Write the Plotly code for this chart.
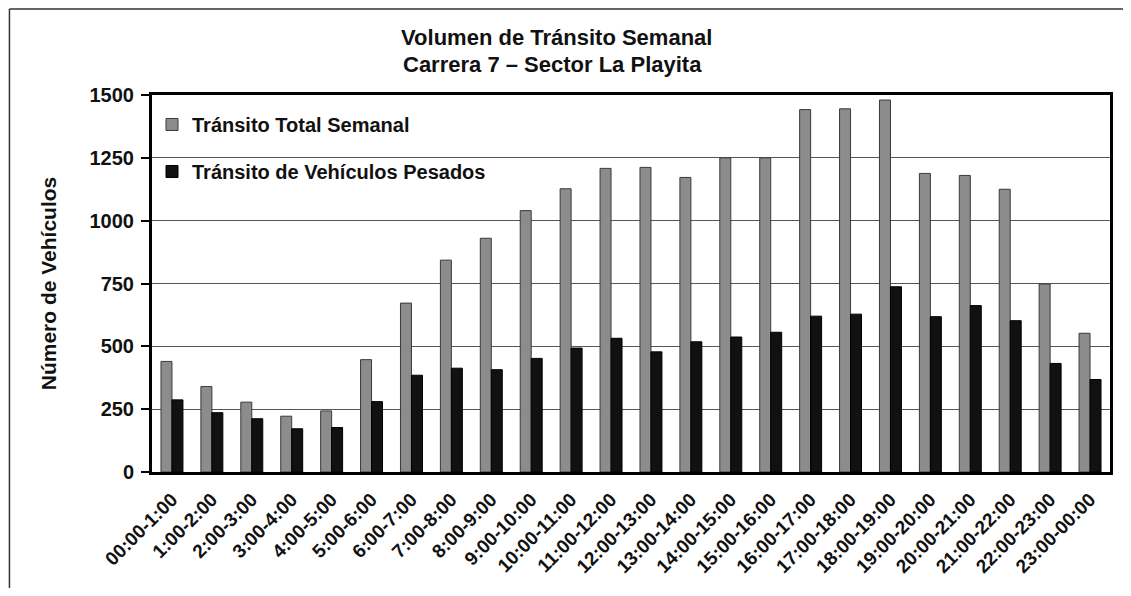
import plotly.graph_objects as go

# Franjas horarias
horas = ['00:00-1:00', '1:00-2:00', '2:00-3:00', '3:00-4:00', '4:00-5:00', '5:00-6:00',
         '6:00-7:00', '7:00-8:00', '8:00-9:00', '9:00-10:00', '10:00-11:00', '11:00-12:00',
         '12:00-13:00', '13:00-14:00', '14:00-15:00', '15:00-16:00', '16:00-17:00',
         '17:00-18:00', '18:00-19:00', '19:00-20:00', '20:00-21:00', '21:00-22:00',
         '22:00-23:00', '23:00-00:00']

transito_total = [440, 340, 278, 222, 243, 447, 672, 843, 930, 1040, 1127, 1208,
                  1212, 1172, 1250, 1250, 1442, 1445, 1480, 1188, 1180, 1125, 748, 552]

transito_pesados = [287, 236, 212, 172, 177, 280, 385, 413, 407, 452, 493, 532,
                    478, 518, 537, 556, 620, 628, 737, 618, 662, 602, 432, 368]

y_ticks = [0, 250, 500, 750, 1000, 1250, 1500]

FONT = 'Liberation Sans, Arial, sans-serif'

fig = go.Figure()

fig.add_trace(go.Bar(
    x=horas, y=transito_total, name='<b>Tránsito Total Semanal</b>',
    marker=dict(color='#8c8c8c', line=dict(color='#3a3a3a', width=1)),
    legendgroup='a'
))
fig.add_trace(go.Bar(
    x=horas, y=transito_pesados, name='<b>Tránsito de Vehículos Pesados</b>',
    marker=dict(color='#111111', line=dict(color='#000000', width=1)),
    legendgroup='b'
))

# the page body adds an 8px margin, so the figure is a bit smaller than the window
fig.update_layout(
    width=1115, height=580,
    margin=dict(l=144, r=10, t=87, b=116),
    paper_bgcolor='white', plot_bgcolor='white',
    font=dict(family=FONT, color='#111111'),
    barmode='group', bargap=0.45, bargroupgap=0.0,
    title=dict(
        text='<b>Volumen de Tránsito Semanal</b>',
        x=0.26, xref='paper', xanchor='left', y=0.95, yref='container', yanchor='middle',
        font=dict(size=22, family=FONT)
    ),
    legend=dict(
        x=0.0, y=0.9735, xanchor='left', yanchor='top',
        bgcolor='rgba(0,0,0,0)', font=dict(size=20, family=FONT),
        tracegroupgap=18
    ),
    showlegend=True,
    shapes=[
        # outer frame (left and top edges, as in the scan)
        dict(type='line', xref='paper', yref='paper', x0=-0.1488, x1=-0.1488, y0=-0.4, y1=1.228,
             line=dict(color='#333333', width=1.5)),
        dict(type='line', xref='paper', yref='paper', x0=-0.1488, x1=1.1, y0=1.228, y1=1.228,
             line=dict(color='#333333', width=1.5)),
    ]
)

# second line of the title
fig.add_annotation(
    text='<b>Carrera 7 – Sector La Playita</b>', xref='paper', yref='paper',
    x=0.26, y=1.0822, xanchor='left', yanchor='middle', showarrow=False,
    font=dict(size=22, family=FONT, color='#111111')
)

fig.update_xaxes(
    tickangle=-45, tickfont=dict(size=19, family=FONT), ticklabelstandoff=6,
    tickvals=horas, ticktext=[f'<b>{h}</b>' for h in horas],
    showline=True, linecolor='black', linewidth=3, mirror=True,
    ticks='', showgrid=False
)

fig.update_yaxes(
    range=[0, 1500], tickvals=y_ticks, ticktext=[f'<b>{v}</b>' for v in y_ticks],
    tickfont=dict(size=20, family=FONT), ticklabelstandoff=3,
    title=dict(text='<b>Número de Vehículos</b>', font=dict(size=21, family=FONT), standoff=28),
    showline=True, linecolor='black', linewidth=3, mirror=True,
    ticks='outside', ticklen=8, tickwidth=2, tickcolor='black',
    showgrid=True, gridcolor='#555555', gridwidth=1, zeroline=False
)

fig.write_html('out.html')
